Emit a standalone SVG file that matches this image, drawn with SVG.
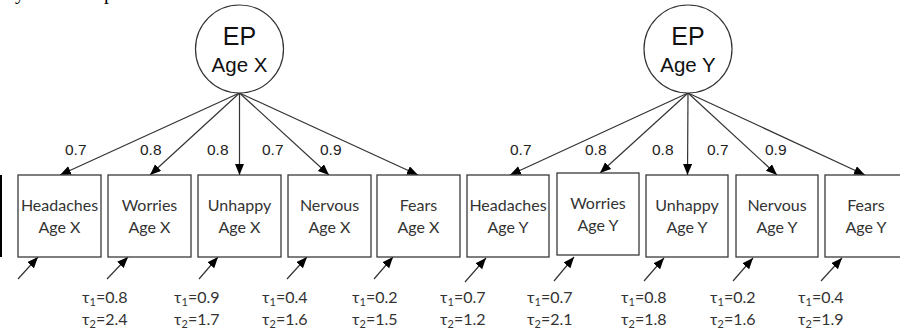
<svg xmlns="http://www.w3.org/2000/svg" width="900" height="331" viewBox="0 0 900 331">
<style>
.bg{fill:#fff}
.box{fill:#fff;stroke:#3a3a3a;stroke-width:1.3}
.lat{fill:#fff;stroke:#333;stroke-width:1.2}
.bt{font-family:Lato,"Open Sans",sans-serif;font-size:16px;fill:#333;text-anchor:middle}
.lt1{font-family:"Liberation Sans",Arial,sans-serif;font-size:25px;fill:#111;text-anchor:middle}
.lt2{font-family:"Liberation Sans",Arial,sans-serif;font-size:20.5px;fill:#111;text-anchor:middle}
.ld{font-family:"Liberation Sans",Arial,sans-serif;font-size:15.5px;fill:#222}
.tau{font-family:Lato,"Open Sans",sans-serif;font-size:16px;fill:#333}
.sub{font-size:11px}
.cap{font-family:"Liberation Serif","Times New Roman",serif;font-size:20px;fill:#000}
.ar{stroke:#333;stroke-width:1.2;fill:none;marker-end:url(#ah)}
</style>
<defs>
<marker id="ah" markerUnits="userSpaceOnUse" markerWidth="12" markerHeight="10" refX="11" refY="4.5" orient="auto">
<path d="M0,0 L11,4.5 L0,9 z" fill="#000"/>
</marker>
</defs>
<rect class="bg" x="0" y="0" width="900" height="331"/>
<g id="caption">
<text class="cap" x="15" y="-1">y</text>
<text class="cap" x="104" y="-1">p</text>
</g>
<line x1="1" y1="175" x2="1" y2="257" stroke="#000" stroke-width="2"/>
<g id="connectors">
<line class="ar" x1="239.5" y1="93" x2="60" y2="175"/>
<line class="ar" x1="239.5" y1="93" x2="150" y2="175"/>
<line class="ar" x1="239.5" y1="93" x2="239.5" y2="175"/>
<line class="ar" x1="239.5" y1="93" x2="329" y2="175"/>
<line class="ar" x1="239.5" y1="93" x2="418" y2="175"/>
<line class="ar" x1="688" y1="93" x2="510" y2="175"/>
<line class="ar" x1="688" y1="93" x2="600" y2="173"/>
<line class="ar" x1="688" y1="93" x2="687.5" y2="175"/>
<line class="ar" x1="688" y1="93" x2="777" y2="175"/>
<line class="ar" x1="688" y1="93" x2="865" y2="175"/>
<line class="ar" x1="18" y1="279" x2="38" y2="257"/>
<line class="ar" x1="107" y1="279" x2="128" y2="257"/>
<line class="ar" x1="199" y1="279" x2="218" y2="257"/>
<line class="ar" x1="287" y1="279" x2="307" y2="257"/>
<line class="ar" x1="374" y1="279" x2="393" y2="257"/>
<line class="ar" x1="465" y1="282" x2="486" y2="258"/>
<line class="ar" x1="554" y1="281" x2="574" y2="257"/>
<line class="ar" x1="644" y1="281" x2="664" y2="258"/>
<line class="ar" x1="733" y1="281" x2="753" y2="258"/>
<line class="ar" x1="821" y1="281" x2="842" y2="258"/>
</g>
<g id="loadings" class="ld">
<text x="65" y="155">0.7</text>
<text x="140" y="155">0.8</text>
<text x="207" y="155">0.8</text>
<text x="262" y="155">0.7</text>
<text x="320" y="155">0.9</text>
<text x="510" y="155">0.7</text>
<text x="585" y="155">0.8</text>
<text x="652" y="155">0.8</text>
<text x="707" y="155">0.7</text>
<text x="765" y="155">0.9</text>
</g>
<g id="EP_X">
<circle class="lat" cx="239.5" cy="49" r="44"/>
<text class="lt1" x="239.5" y="45">EP</text>
<text class="lt2" x="239.5" y="72">Age X</text>
</g>
<g id="EP_Y">
<circle class="lat" cx="688" cy="49" r="44"/>
<text class="lt1" x="688" y="45">EP</text>
<text class="lt2" x="688" y="72">Age Y</text>
</g>
<g id="Headaches_X"><rect class="box" x="18" y="175" width="83" height="82"/><text class="bt" x="59.5" y="211">Headaches</text><text class="bt" x="59.5" y="233">Age X</text></g>
<g id="Worries_X"><rect class="box" x="108" y="175" width="83" height="82"/><text class="bt" x="149.5" y="211">Worries</text><text class="bt" x="149.5" y="233">Age X</text></g>
<g id="Unhappy_X"><rect class="box" x="198" y="175" width="83" height="82"/><text class="bt" x="239.5" y="211">Unhappy</text><text class="bt" x="239.5" y="233">Age X</text></g>
<g id="Nervous_X"><rect class="box" x="288" y="175" width="83" height="82"/><text class="bt" x="329.5" y="211">Nervous</text><text class="bt" x="329.5" y="233">Age X</text></g>
<g id="Fears_X"><rect class="box" x="377" y="175" width="83" height="82"/><text class="bt" x="418.5" y="211">Fears</text><text class="bt" x="418.5" y="233">Age X</text></g>
<g id="Headaches_Y"><rect class="box" x="467" y="175" width="82" height="82"/><text class="bt" x="508" y="211">Headaches</text><text class="bt" x="508" y="233">Age Y</text></g>
<g id="Worries_Y"><rect class="box" x="557" y="173" width="82" height="82"/><text class="bt" x="598" y="209">Worries</text><text class="bt" x="598" y="231">Age Y</text></g>
<g id="Unhappy_Y"><rect class="box" x="646" y="175" width="82" height="82"/><text class="bt" x="687" y="211">Unhappy</text><text class="bt" x="687" y="233">Age Y</text></g>
<g id="Nervous_Y"><rect class="box" x="736" y="175" width="82" height="82"/><text class="bt" x="777" y="211">Nervous</text><text class="bt" x="777" y="233">Age Y</text></g>
<g id="Fears_Y"><rect class="box" x="825" y="175" width="83" height="82"/><text class="bt" x="866" y="211">Fears</text><text class="bt" x="866" y="233">Age Y</text></g>
<g id="thresholds" class="tau">
<text x="82" y="303">τ<tspan class="sub" dy="3">1</tspan><tspan dy="-3">=0.8</tspan></text>
<text x="82" y="325">τ<tspan class="sub" dy="3">2</tspan><tspan dy="-3">=2.4</tspan></text>
<text x="174" y="303">τ<tspan class="sub" dy="3">1</tspan><tspan dy="-3">=0.9</tspan></text>
<text x="174" y="325">τ<tspan class="sub" dy="3">2</tspan><tspan dy="-3">=1.7</tspan></text>
<text x="262" y="303">τ<tspan class="sub" dy="3">1</tspan><tspan dy="-3">=0.4</tspan></text>
<text x="262" y="325">τ<tspan class="sub" dy="3">2</tspan><tspan dy="-3">=1.6</tspan></text>
<text x="352" y="303">τ<tspan class="sub" dy="3">1</tspan><tspan dy="-3">=0.2</tspan></text>
<text x="352" y="325">τ<tspan class="sub" dy="3">2</tspan><tspan dy="-3">=1.5</tspan></text>
<text x="440" y="303">τ<tspan class="sub" dy="3">1</tspan><tspan dy="-3">=0.7</tspan></text>
<text x="440" y="325">τ<tspan class="sub" dy="3">2</tspan><tspan dy="-3">=1.2</tspan></text>
<text x="527" y="303">τ<tspan class="sub" dy="3">1</tspan><tspan dy="-3">=0.7</tspan></text>
<text x="527" y="325">τ<tspan class="sub" dy="3">2</tspan><tspan dy="-3">=2.1</tspan></text>
<text x="621" y="303">τ<tspan class="sub" dy="3">1</tspan><tspan dy="-3">=0.8</tspan></text>
<text x="621" y="325">τ<tspan class="sub" dy="3">2</tspan><tspan dy="-3">=1.8</tspan></text>
<text x="710" y="303">τ<tspan class="sub" dy="3">1</tspan><tspan dy="-3">=0.2</tspan></text>
<text x="710" y="325">τ<tspan class="sub" dy="3">2</tspan><tspan dy="-3">=1.6</tspan></text>
<text x="798" y="303">τ<tspan class="sub" dy="3">1</tspan><tspan dy="-3">=0.4</tspan></text>
<text x="798" y="325">τ<tspan class="sub" dy="3">2</tspan><tspan dy="-3">=1.9</tspan></text>
</g>
</svg>
